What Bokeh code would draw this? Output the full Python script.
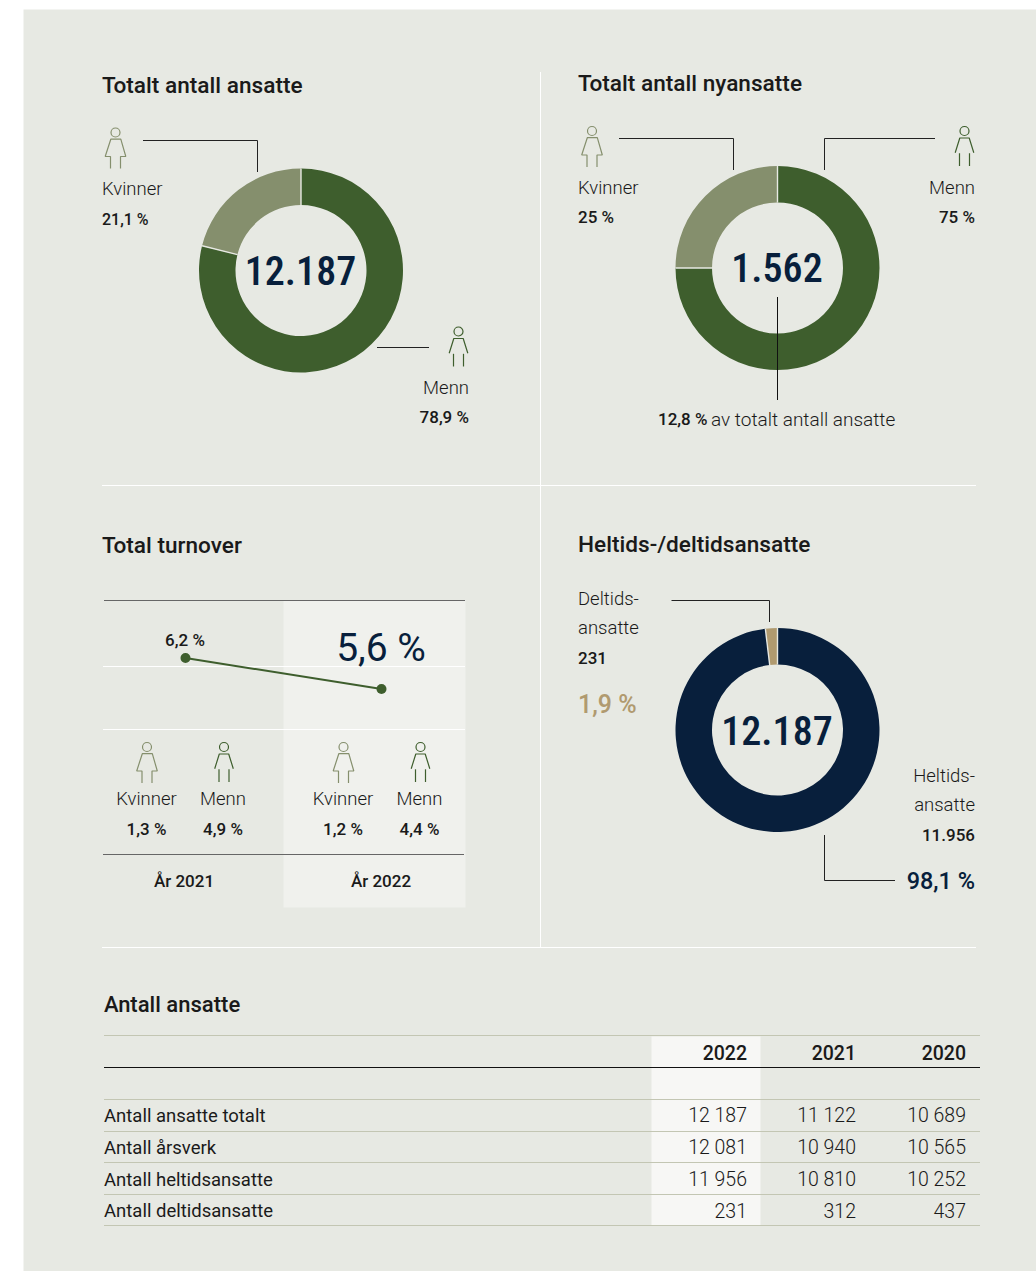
from bokeh.plotting import figure
from bokeh.embed import file_html
from bokeh.resources import INLINE
from bokeh.core.properties import value
from bokeh.models import Range1d
import math

# ---- data ----
donut1_labels = ["Menn", "Kvinner"]
donut1_values = [78.9, 21.1]
donut1_total = "12.187"
donut2_labels = ["Menn", "Kvinner"]
donut2_values = [75, 25]
donut2_total = "1.562"
donut3_labels = ["Heltidsansatte", "Deltidsansatte"]
donut3_values = [98.1, 1.9]
donut3_total = "12.187"
turnover_years = ["År 2021", "År 2022"]
turnover_values = [6.2, 5.6]
table_years = ["2022", "2021", "2020"]
table_rows = ["Antall ansatte totalt", "Antall årsverk", "Antall heltidsansatte", "Antall deltidsansatte"]
table_2022 = ["12 187", "12 081", "11 956", "231"]
table_2021 = ["11 122", "10 940", "10 810", "312"]
table_2020 = ["10 689", "10 565", "10 252", "437"]

# ---- style ----
BG = "#e7e9e3"; GREEN = "#3e5e2d"; LIGHT = "#858f6d"; NAVY = "#081f3c"; TAN = "#b09a6f"
BLACK = "#1a1a1a"; RULE = "#c3c6b3"; CONN = "#222222"
REG = "Roboto"; MED = "Roboto Medium"; LT = "Roboto Light"; COND = "Roboto Condensed Medium"
W, H = 1036, 1271

p = figure(width=W, height=H, output_backend="svg", toolbar_location=None,
           x_range=Range1d(0.5, W + 0.5), y_range=Range1d(H + 0.5, 0.5), min_border=0,
           outline_line_color=None, background_fill_color="white", border_fill_color="white")
p.axis.visible = False
p.grid.visible = False

# turnover value range shares the vertical scale of the page
T_Y0, T_Y1 = 658, 689
per = (T_Y1 - T_Y0) / (turnover_values[0] - turnover_values[1])
p.extra_y_ranges["turnover"] = Range1d(turnover_values[0] - (H + 0.5 - T_Y0) / per,
                                       turnover_values[0] + (T_Y0 - 0.5) / per)

def txt(x, y, s, size, color=BLACK, font=REG, align="left"):
    p.text([x], [y], text=[s], text_font=value(font), text_font_size=f"{size}px", text_color=color,
           text_align=align, text_baseline="middle")

def rule(x0, x1, y, color, w=1.0):
    p.line([x0, x1], [y, y], line_color=color, line_width=w)

def path(xs, ys, color=CONN, w=1.0):
    p.line(xs, ys, line_color=color, line_width=w)

def woman(x, y, color=LIGHT):
    p.circle([x], [y], radius=4.5, fill_color=None, line_color=color, line_width=1.2)
    dx = [-5, -5, -10.3, -4.7, 5.3, 10.3, 5, 5]
    dy = [36, 24, 24, 6.7, 6.7, 24, 24, 36]
    path([x + a for a in dx], [y + b for b in dy], color, 1.2)

def man(x, y, color=GREEN):
    p.circle([x], [y], radius=4.5, fill_color=None, line_color=color, line_width=1.2)
    dx = [-9.3, -4.7, 4.7, 9.3]
    dy = [21.7, 7, 7, 21.7]
    path([x + a for a in dx], [y + b for b in dy], color, 1.2)
    path([x - 5, x - 5], [y + 22.3, y + 35], color, 1.2)
    path([x + 5, x + 5], [y + 22.3, y + 35], color, 1.2)

def donut(cx, cy, values, colors, start_deg=90):
    # clockwise from the start angle; hairlines only between slices
    R0, R1 = 65.5, 102
    ang = math.radians(start_deg)
    cuts = []
    for v, c in zip(values, colors):
        nxt = ang - v / sum(values) * 2 * math.pi
        p.annular_wedge([cx], [cy], inner_radius=R0, outer_radius=R1, start_angle=nxt, end_angle=ang,
                        fill_color=c, line_color=None,
                        inner_radius_units="screen", outer_radius_units="screen")
        cuts.append(ang)
        ang = nxt
    for a in cuts:
        path([cx + R0 * math.cos(a), cx + R1 * math.cos(a)],
             [cy - R0 * math.sin(a), cy - R1 * math.sin(a)], BG, 1.4)

# panel
p.quad(left=[23.5], right=[W + 1], top=[9.5], bottom=[H + 1], fill_color=BG, line_color=None)

# separators
p.line([540.5, 540.5], [72, 947], line_color="white", line_width=1)
rule(102, 976, 485.5, "white"); rule(102, 976, 947.5, "white")

# ---- panel 1 ----
txt(102, 85, "Totalt antall ansatte", 22.6, BLACK, MED)
donut(301, 270.5, donut1_values, [GREEN, LIGHT])
txt(300.5, 270, donut1_total, 40, NAVY, COND, "center")
path([143, 257.5, 257.5], [140.5, 140.5, 172])
path([377, 429], [347.5, 347.5])
woman(115.5, 132.5); man(458.5, 331.5)
txt(102, 189, "Kvinner", 18.5, font=LT); txt(102, 219, "21,1 %", 16, BLACK, MED)
txt(469, 388, "Menn", 18.5, font=LT, align="right"); txt(469, 416.5, "78,9 %", 17, BLACK, MED, "right")

# ---- panel 2 ----
txt(578, 83, "Totalt antall nyansatte", 22.6, BLACK, MED)
donut(777.5, 268, donut2_values, [GREEN, LIGHT])
txt(777, 267, donut2_total, 40, NAVY, COND, "center")
path([619, 733.5, 733.5], [138.5, 138.5, 170])
path([824.5, 824.5, 935], [170, 138.5, 138.5])
path([777.5, 777.5], [297, 400], "#111111")
woman(592, 131); man(964.5, 131)
txt(578, 188, "Kvinner", 18.5, font=LT); txt(578, 216.5, "25 %", 17, BLACK, MED)
txt(975, 188, "Menn", 18.5, font=LT, align="right"); txt(975, 216.5, "75 %", 17, BLACK, MED, "right")
txt(658, 419, "12,8 %", 17, BLACK, MED); txt(711, 419, "av totalt antall ansatte", 19, font=LT)

# ---- panel 3 ----
txt(102, 545, "Total turnover", 22.6, BLACK, MED)
p.quad(left=[283.5], right=[465.5], top=[600.5], bottom=[907.5], fill_color="#f0f1ed", line_color=None)
rule(104, 465, 600.5, "#666666", 1.2)
rule(103, 465, 666.5, "white"); rule(103, 465, 729.5, "white")
rule(103, 464, 854.5, "#666666", 1.2)
xs = [185.5, 381.5]
p.line(xs, turnover_values, y_range_name="turnover", line_color=GREEN, line_width=2)
p.scatter(xs, turnover_values, y_range_name="turnover", size=10, fill_color=GREEN, line_color=None)
txt(185, 640, "6,2 %", 17, BLACK, MED, "center")
txt(381, 648, "5,6 %", 39, NAVY, REG, "center")
for off, (a, b, c, d) in zip([0, 196.5], [("Kvinner", "1,3 %", "Menn", "4,9 %"), ("Kvinner", "1,2 %", "Menn", "4,4 %")]):
    woman(147 + off, 747); man(224 + off, 747)
    txt(146.5 + off, 799, a, 18.5, font=LT, align="center"); txt(146.5 + off, 829, b, 17, BLACK, MED, "center")
    txt(223 + off, 799, c, 18.5, font=LT, align="center"); txt(223 + off, 829, d, 17, BLACK, MED, "center")
txt(184, 880.5, turnover_years[0], 17, BLACK, MED, "center")
txt(381, 880.5, turnover_years[1], 17, BLACK, MED, "center")

# ---- panel 4 ----
txt(578, 544, "Heltids-/deltidsansatte", 22.6, BLACK, MED)
donut(777.5, 730, [donut3_values[1], donut3_values[0]], [TAN, NAVY], start_deg=90 + donut3_values[1] / 100 * 360)
txt(777, 730, donut3_total, 40, NAVY, COND, "center")
path([671.5, 769.5, 769.5], [600.5, 600.5, 622])
path([824.5, 824.5, 895], [835, 880.5, 880.5])
txt(578, 599, "Deltids-", 18.5, font=LT); txt(578, 628, "ansatte", 18.5, font=LT); txt(578, 658, "231", 17, BLACK, MED)
txt(578, 704, "1,9 %", 25, TAN, MED)
txt(975, 776, "Heltids-", 18.5, font=LT, align="right"); txt(975, 805, "ansatte", 18.5, font=LT, align="right")
txt(975, 835, "11.956", 17, BLACK, MED, "right")
txt(975, 880.5, "98,1 %", 23.5, NAVY, MED, "right")

# ---- table ----
txt(104, 1004.5, "Antall ansatte", 22, BLACK, MED)
p.quad(left=[651.5], right=[760.5], top=[1036.5], bottom=[1225.5], fill_color="#f7f7f5", line_color=None)
for y in [1035.5, 1099.5, 1131.5, 1162.5, 1194.5, 1225.5]:
    rule(104, 980, y, RULE, 1.2)
rule(104, 980, 1067.5, "#111111", 1)
cols = [table_2022, table_2021, table_2020]
col_x = [747, 856, 966]
row_y = [1115.5, 1147.5, 1179.5, 1210.5]
for yr, x in zip(table_years, col_x):
    txt(x, 1052, yr, 19.5, BLACK, MED, "right")
for r, y in zip(table_rows, row_y):
    txt(104, y, r, 18.5, font=REG)
for col, x in zip(cols, col_x):
    for v, y in zip(col, row_y):
        txt(x, y, v, 19.5, font=LT, align="right")

open("out.html", "w").write(file_html(p, INLINE))
